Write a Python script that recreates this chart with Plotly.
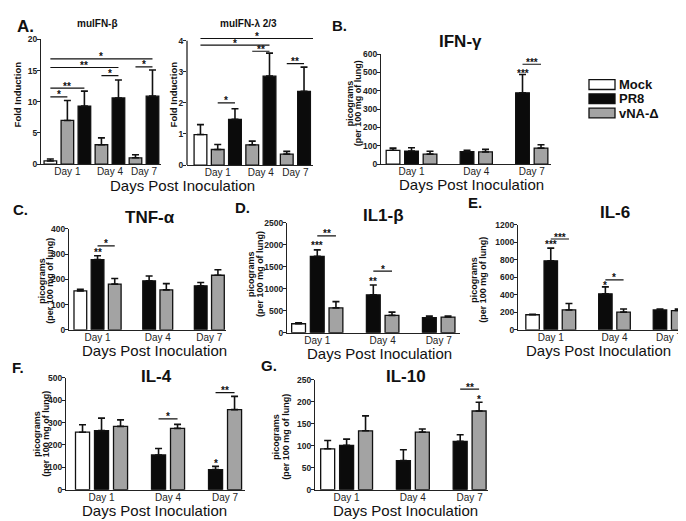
import plotly.graph_objects as go

W, H = 686, 521
FONT = "Liberation Sans, Arial, sans-serif"

days = ["Day 1", "Day 4", "Day 7"]
SERIES = ["Mock", "PR8", "vNA-Δ"]
FILL = {"Mock": "#ffffff", "PR8": "#0b0b0b", "vNA-Δ": "#a3a3a3"}

# ---------------- data (means and upper SEM) ----------------
# A: mulFN-beta fold induction
beta_mock = [0.5, None, None];   beta_mock_err = [0.3, None, None]
beta_pr8 = [9.3, 10.6, 10.9];    beta_pr8_err = [2.4, 2.9, 4.2]
beta_vna = [7.0, 3.1, 1.0];      beta_vna_err = [3.2, 1.1, 0.5]
beta_ticks = [0, 5, 10, 15, 20]
# A: mulFN-lambda 2/3 fold induction
lam_mock = [0.98, None, None];   lam_mock_err = [0.32, None, None]
lam_pr8 = [1.47, 2.86, 2.37];    lam_pr8_err = [0.34, 0.74, 0.78]
lam_vna = [0.5, 0.65, 0.35];     lam_vna_err = [0.16, 0.12, 0.09]
lam_ticks = [0, 1, 2, 3, 4]
# B: IFN-gamma
ifng_mock = [75, None, None];    ifng_mock_err = [12, None, None]
ifng_pr8 = [71, 68, 389];        ifng_pr8_err = [18, 7, 100]
ifng_vna = [54, 66, 87];         ifng_vna_err = [16, 14, 18]
ifng_ticks = [0, 100, 200, 300, 400, 500, 600]
# C: TNF-alpha
tnf_mock = [154, None, None];    tnf_mock_err = [6, None, None]
tnf_pr8 = [278, 194, 174];       tnf_pr8_err = [15, 19, 13]
tnf_vna = [181, 158, 216];       tnf_vna_err = [22, 25, 22]
tnf_ticks = [0, 100, 200, 300, 400]
# D: IL1-beta
il1_mock = [205, None, None];    il1_mock_err = [20, None, None]
il1_pr8 = [1740, 864, 342];      il1_pr8_err = [145, 223, 37]
il1_vna = [565, 395, 357];       il1_vna_err = [142, 74, 22]
il1_ticks = [0, 500, 1000, 1500, 2000, 2500]
# E: IL-6
il6_mock = [172, None, None];    il6_mock_err = [5, None, None]
il6_pr8 = [789, 411, 227];       il6_pr8_err = [145, 80, 11]
il6_vna = [227, 202, 220];       il6_vna_err = [73, 36, 18]
il6_ticks = [0, 200, 400, 600, 800, 1000, 1200]
# F: IL-4
il4_mock = [257, None, None];    il4_mock_err = [33, None, None]
il4_pr8 = [264, 155, 90];        il4_pr8_err = [56, 29, 14]
il4_vna = [283, 274, 358];       il4_vna_err = [29, 18, 59]
il4_ticks = [0, 100, 200, 300, 400, 500]
# G: IL-10
il10_mock = [93, None, None];    il10_mock_err = [19, None, None]
il10_pr8 = [101, 66, 110];       il10_pr8_err = [14, 25, 15]
il10_vna = [134, 131, 179];      il10_vna_err = [34, 7, 20]
il10_ticks = [0, 50, 100, 150, 200, 250]

panels = [
    dict(vals={"Mock": beta_mock, "PR8": beta_pr8, "vNA-Δ": beta_vna},
         errs={"Mock": beta_mock_err, "PR8": beta_pr8_err, "vNA-Δ": beta_vna_err},
         order=["Mock", "vNA-Δ", "PR8"], mode="seq", box=(33, 153, 27, 154),
         xr=[-0.55, 6.5], yr=[0, 20], ticks=beta_ticks,
         brackets=[("Mock", 0, "vNA-Δ", 0, 10.8, "*"), ("Mock", 0, "PR8", 0, 12.2, "**"),
                   ("vNA-Δ", 1, "PR8", 1, 14.2, "*"), ("Mock", 0, "PR8", 1, 15.5, "**"),
                   ("vNA-Δ", 2, "PR8", 2, 15.6, "*"), ("Mock", 0, "PR8", 2, 16.9, "*")],
         above=[]),
    dict(vals={"Mock": lam_mock, "PR8": lam_pr8, "vNA-Δ": lam_vna},
         errs={"Mock": lam_mock_err, "PR8": lam_pr8_err, "vNA-Δ": lam_vna_err},
         order=["Mock", "vNA-Δ", "PR8"], mode="seq", box=(179, 305, 21.9, 155),
         xr=[-0.78, 6.52], yr=[0, 4.2], ticks=lam_ticks, axis_top=4,
         brackets=[("vNA-Δ", 0, "PR8", 0, 2.0, "*"), ("vNA-Δ", 1, "PR8", 1, 3.66, "**"),
                   ("vNA-Δ", 2, "PR8", 2, 3.26, "**"), ("Mock", 0, "PR8", 1, 3.86, "*"),
                   ("Mock", 0, "PR8", 2, 4.07, "*", 0.6)],
         above=[]),
    dict(vals={"Mock": ifng_mock, "PR8": ifng_pr8, "vNA-Δ": ifng_vna},
         errs={"Mock": ifng_mock_err, "PR8": ifng_pr8_err, "vNA-Δ": ifng_vna_err},
         order=["Mock", "PR8", "vNA-Δ"], mode="slot", box=(373, 543, 42, 154),
         xr=[-0.65, 8.54], yr=[0, 600], ticks=ifng_ticks,
         brackets=[("PR8", 2, "vNA-Δ", 2, 545, "***")],
         above=[("PR8", 2, 512, "***")]),
    dict(vals={"Mock": tnf_mock, "PR8": tnf_pr8, "vNA-Δ": tnf_vna},
         errs={"Mock": tnf_mock_err, "PR8": tnf_pr8_err, "vNA-Δ": tnf_vna_err},
         order=["Mock", "PR8", "vNA-Δ"], mode="slot", box=(61, 218, 220, 323),
         xr=[-0.66, 8.47], yr=[0, 400], ticks=tnf_ticks,
         brackets=[("PR8", 0, "vNA-Δ", 0, 332, "*")],
         above=[("PR8", 0, 316, "**")]),
    dict(vals={"Mock": il1_mock, "PR8": il1_pr8, "vNA-Δ": il1_vna},
         errs={"Mock": il1_mock_err, "PR8": il1_pr8_err, "vNA-Δ": il1_vna_err},
         order=["Mock", "PR8", "vNA-Δ"], mode="slot", box=(279, 452, 214, 326),
         xr=[-0.62, 8.64], yr=[0, 2500], ticks=il1_ticks,
         brackets=[("PR8", 0, "vNA-Δ", 0, 2203, "**"), ("PR8", 1, "vNA-Δ", 1, 1400, "*")],
         above=[("PR8", 0, 2047, "***"), ("PR8", 1, 1228, "**")]),
    dict(vals={"Mock": il6_mock, "PR8": il6_pr8, "vNA-Δ": il6_vna},
         errs={"Mock": il6_mock_err, "PR8": il6_pr8_err, "vNA-Δ": il6_vna_err},
         order=["Mock", "PR8", "vNA-Δ"], mode="slot", box=(510, 680, 216, 323),
         xr=[-0.8, 8.54], yr=[0, 1200], ticks=il6_ticks,
         brackets=[("PR8", 0, "vNA-Δ", 0, 1038, "***"), ("PR8", 1, "vNA-Δ", 1, 570, "*")],
         above=[("PR8", 0, 1005, "***"), ("PR8", 1, 537, "*")]),
    dict(vals={"Mock": il4_mock, "PR8": il4_pr8, "vNA-Δ": il4_vna},
         errs={"Mock": il4_mock_err, "PR8": il4_pr8_err, "vNA-Δ": il4_vna_err},
         order=["Mock", "PR8", "vNA-Δ"], mode="slot", box=(58, 237, 372, 486),
         xr=[-0.87, 8.55], yr=[0, 500], ticks=il4_ticks,
         brackets=[("PR8", 1, "vNA-Δ", 1, 317, "*"), ("PR8", 2, "vNA-Δ", 2, 434, "**")],
         above=[("PR8", 2, 130, "*")]),
    dict(vals={"Mock": il10_mock, "PR8": il10_pr8, "vNA-Δ": il10_vna},
         errs={"Mock": il10_mock_err, "PR8": il10_pr8_err, "vNA-Δ": il10_vna_err},
         order=["Mock", "PR8", "vNA-Δ"], mode="slot", box=(307, 480, 374, 486),
         xr=[-0.67, 8.47], yr=[0, 250], ticks=il10_ticks,
         brackets=[("PR8", 2, "vNA-Δ", 2, 229, "**")],
         above=[("vNA-Δ", 2, 213, "*")]),
]


def bar_positions(p):
    """Position of every bar: sequential (panel A) or 3 slots per day."""
    pos = {}
    k = 0
    for d in range(len(days)):
        for j, s in enumerate(p["order"]):
            v = p["vals"][s][d]
            if v is None:
                continue
            if p["mode"] == "slot":
                pos[(s, d)] = 3 * d + j
            else:
                pos[(s, d)] = k
                k += 1
    return pos


fig = go.Figure()
shapes = []
annotations = []
layout = {}

for i, p in enumerate(panels):
    n = "" if i == 0 else str(i + 1)
    xa, ya = "x" + n, "y" + n
    pos = bar_positions(p)
    for s in p["order"]:
        xs, ys, es = [], [], []
        for d in range(len(days)):
            if (s, d) in pos:
                xs.append(pos[(s, d)])
                ys.append(p["vals"][s][d])
                es.append(p["errs"][s][d])
        fig.add_trace(go.Bar(
            x=xs, y=ys, width=0.74, xaxis=xa, yaxis=ya, name=s, showlegend=False,
            marker=dict(color=FILL[s], line=dict(color="#111", width=1.3)),
            error_y=dict(type="data", symmetric=False, array=es, arrayminus=[0] * len(es),
                         color="#111", thickness=1.6, width=3.5),
        ))
    # tick labels at the centre of each day group
    tv = []
    for d in range(len(days)):
        ps = [pos[(s, d)] for s in p["order"] if (s, d) in pos]
        tv.append(sum(ps) / len(ps))
    l, r, t, b = p["box"]
    layout["xaxis" + n] = dict(
        domain=[l / W, r / W], range=p["xr"], anchor=ya, showgrid=False, zeroline=False,
        showline=True, linecolor="#222", linewidth=1.3, ticks="",
        tickmode="array", tickvals=tv, ticktext=days, ticklabelstandoff=-2,
        tickfont=dict(family=FONT, size=10, color="#222"), fixedrange=True)
    layout["yaxis" + n] = dict(
        domain=[1 - b / H, 1 - t / H], range=p["yr"], anchor=xa, showgrid=False, zeroline=False,
        showline=("axis_top" not in p), linecolor="#222", linewidth=1.3,
        ticks="outside", ticklen=3, tickwidth=1, tickcolor="#222",
        tickmode="array", tickvals=p["ticks"], ticklabelstandoff=-2,
        tickfont=dict(family=FONT, size=8.5, color="#222", weight="bold"), fixedrange=True)
    if "axis_top" in p:
        shapes.append(dict(type="line", xref=xa + " domain", yref=ya, x0=0, x1=0,
                           y0=0, y1=p["axis_top"], line=dict(color="#222", width=1.3)))
    for br in p["brackets"]:
        s0, d0, s1, d1, yv, txt_ = br[:6]
        ext = br[6] if len(br) > 6 else 0
        x0, x1 = pos[(s0, d0)], pos[(s1, d1)] + ext
        shapes.append(dict(type="line", xref=xa, yref=ya, x0=x0, x1=x1, y0=yv, y1=yv,
                           line=dict(color="#111", width=1.2)))
        annotations.append(dict(xref=xa, yref=ya, x=(x0 + x1) / 2, y=yv, text=txt_,
                                showarrow=False, yanchor="middle", yshift=2,
                                font=dict(family=FONT, size=10, color="#111", weight="bold")))
    for s, d, yv, txt_ in p["above"]:
        annotations.append(dict(xref=xa, yref=ya, x=pos[(s, d)], y=yv, text=txt_,
                                showarrow=False, yanchor="middle", yshift=-3,
                                font=dict(family=FONT, size=10, color="#111", weight="bold")))


def txt(x, y, s, size, bold=True, angle=0, xanchor="center"):
    annotations.append(dict(xref="paper", yref="paper", x=x / W, y=1 - y / H, text=s,
                            showarrow=False, xanchor=xanchor, yanchor="middle", textangle=angle,
                            font=dict(family=FONT, size=size, color="#111",
                                      weight="bold" if bold else "normal")))


# panel letters
txt(17, 14, "A.", 17)
txt(331, 13, "B.", 15)
txt(12, 200, "C.", 15)
txt(234, 198, "D.", 15)
txt(467, 193, "E.", 15)
txt(10, 361, "F.", 15)
txt(261, 359, "G.", 15)
# panel titles
txt(90, 11, "mulFN-β", 10)
txt(240, 11, "mulFN-λ 2/3", 10)
txt(452, 29, "IFN-γ", 17)
txt(142, 209, "TNF-α", 17)
txt(375, 206, "IL1-β", 17)
txt(607, 203, "IL-6", 17)
txt(148, 371, "IL-4", 17)
txt(398, 371, "IL-10", 17)
# x titles
for (x, y) in [(174, 176), (463, 175), (146, 344), (371, 347), (590, 344), (146, 507), (397, 507)]:
    txt(x, y, "Days Post Inoculation", 15, bold=False)
# y titles
txt(9, 83, "Fold Induction", 9.5, angle=-90)
txt(165, 83, "Fold Induction", 9.5, angle=-90)
for (x1, x2, y) in [(342, 350, 92), (34, 42, 273), (243, 252, 266), (466, 475, 272),
                    (29, 38, 429), (268, 278, 432)]:
    txt(x1, y, "picograms", 9, angle=-90)
    txt(x2, y, "(per 100 mg of lung)", 9, angle=-90)

# legend (drawn by hand to match the wide swatches)
for k, s in enumerate(SERIES):
    yc = 73 + 14.5 * k
    shapes.append(dict(type="rect", xref="paper", yref="paper",
                       x0=581 / W, x1=607 / W, y0=1 - (yc + 5) / H, y1=1 - (yc - 5) / H,
                       fillcolor=FILL[s], line=dict(color="#111", width=1.3)))
    txt(609, yc, s, 13, xanchor="left")

fig.update_layout(
    width=W, height=H, autosize=False, margin=dict(l=0, r=0, t=0, b=0),
    paper_bgcolor="white", plot_bgcolor="white", barmode="overlay",
    shapes=shapes, annotations=annotations, showlegend=False, **layout)

fig.write_html("out.html")
